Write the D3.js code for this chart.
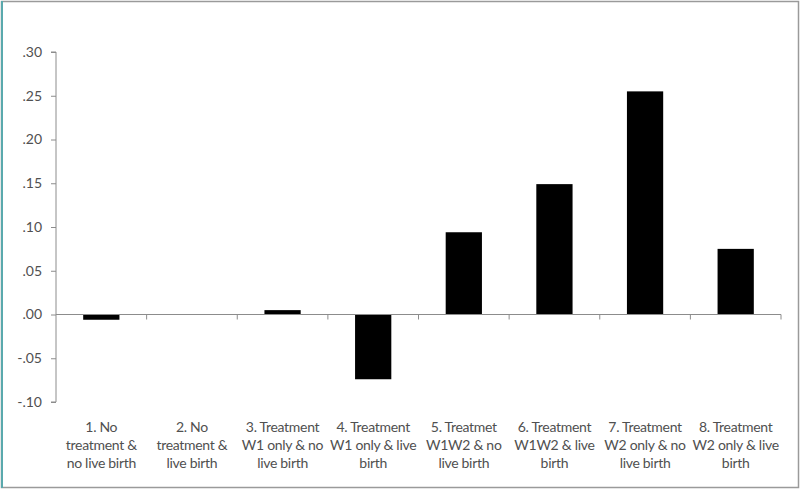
<!DOCTYPE html>
<html>
<head>
<meta charset="utf-8">
<script src="https://cdn.jsdelivr.net/npm/d3@7"></script>
<style>
  body { margin: 0; background: #fff; }
  svg text { font-family: Lato, "Open Sans", sans-serif; fill: #505050; }
</style>
</head>
<body>
<div id="chart"></div>
<script>
// data
var categories = [
  ['1. No', 'treatment &', 'no live birth'],
  ['2. No', 'treatment &', 'live birth'],
  ['3. Treatment', 'W1 only & no', 'live birth'],
  ['4. Treatment', 'W1 only & live', 'birth'],
  ['5. Treatmet', 'W1W2 & no', 'live birth'],
  ['6. Treatment', 'W1W2 & live', 'birth'],
  ['7. Treatment', 'W2 only & no', 'live birth'],
  ['8. Treatment', 'W2 only & live', 'birth']
];
var values = [-0.006, 0, 0.005, -0.074, 0.094, 0.149, 0.255, 0.075];
var yTicks = [-0.10, -0.05, 0, 0.05, 0.10, 0.15, 0.20, 0.25, 0.30];

var width = 800, height = 489
  , margin = { left: 56, right: 19, top: 52, bottom: 87 }
;

var svg = d3.select('#chart').append('svg')
    .attr('width', width)
    .attr('height', height);

// frame
svg.append('rect')
    .attr('x', 1.5).attr('y', 1.5)
    .attr('width', width - 3).attr('height', height - 3)
    .attr('fill', '#fff')
    .attr('stroke', '#9a9a9a')
    .attr('stroke-width', 1.5);
svg.append('line')
    .attr('x1', 2).attr('x2', 2).attr('y1', 1).attr('y2', height - 1)
    .attr('stroke', '#5aa9ad').attr('stroke-width', 2);

var x = d3.scaleBand()
    .domain(d3.range(categories.length))
    .range([margin.left, width - margin.right])
    .paddingInner(0.6)
    .paddingOuter(0.3);

var y = d3.scaleLinear()
    .domain([-0.10, 0.30])
    .range([height - margin.bottom, margin.top]);

var fmt = function (d) {
  var s = d3.format('.2f')(Math.abs(d)).replace(/^0/, '');
  return (d < -1e-9 ? '-' : '') + s;
};

// y axis
var yAxis = svg.append('g')
    .attr('transform', 'translate(' + margin.left + ',0)')
    .call(d3.axisLeft(y).tickValues(yTicks).tickSize(5).tickPadding(9).tickFormat(fmt));
yAxis.selectAll('line, path').attr('stroke', '#8c8c8c');
yAxis.select('.domain').attr('d', 'M-5,' + y(0.30) + 'H0V' + y(-0.10) + 'H-5');
yAxis.selectAll('text').style('font-size', '14px').attr('fill', '#505050');

// bars
svg.selectAll('rect.bar')
    .data(values)
    .enter()
    .append('rect')
    .attr('class', 'bar')
    .attr('x', function (d, i) { return x(i); })
    .attr('width', x.bandwidth())
    .attr('y', function (d) { return y(Math.max(0, d)); })
    .attr('height', function (d) { return Math.abs(y(d) - y(0)); })
    .attr('fill', '#000');

// category axis along zero
var step = (width - margin.right - margin.left) / categories.length;
var xg = svg.append('g');
xg.append('line')
    .attr('x1', margin.left).attr('x2', width - margin.right)
    .attr('y1', y(0)).attr('y2', y(0))
    .attr('stroke', '#8c8c8c');
xg.selectAll('line.tick')
    .data(d3.range(1, categories.length + 1))
    .enter()
    .append('line')
    .attr('class', 'tick')
    .attr('x1', function (d) { return margin.left + d * step; })
    .attr('x2', function (d) { return margin.left + d * step; })
    .attr('y1', y(0)).attr('y2', y(0) + 5)
    .attr('stroke', '#8c8c8c');

// category labels
var labels = svg.selectAll('text.cat')
    .data(categories)
    .enter()
    .append('text')
    .attr('class', 'cat')
    .attr('text-anchor', 'middle')
    .style('font-size', '14px')
    .style('letter-spacing', '-0.3px');
labels.selectAll('tspan')
    .data(function (d, i) { return d.map(function (t) { return { t: t, i: i }; }); })
    .enter()
    .append('tspan')
    .attr('x', function (d) { return x(d.i) + x.bandwidth() / 2; })
    .attr('y', function (d, j) { return 432 + j * 18; })
    .text(function (d) { return d.t; });
</script>
</body>
</html>
